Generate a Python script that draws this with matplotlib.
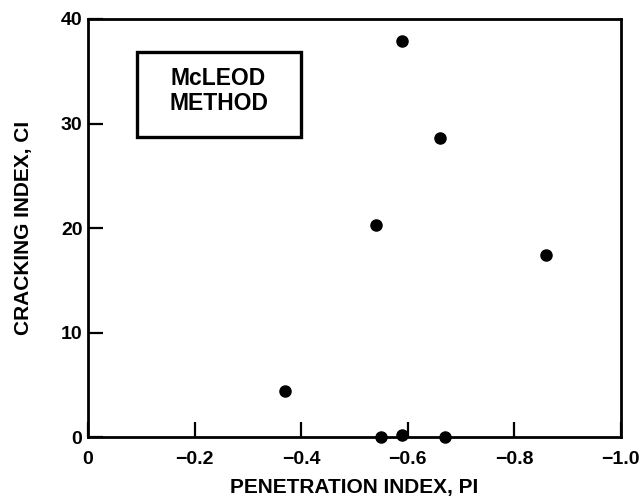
import matplotlib as mpl
mpl.use('Agg')
import matplotlib.pyplot as plt
from matplotlib.patches import Rectangle

# penetration index vs cracking index (McLeod method)
pen_index = [-0.37, -0.54, -0.55, -0.59, -0.59, -0.66, -0.67, -0.86]
crack_index = [4.4, 20.3, 0.0, 0.2, 37.9, 28.6, 0.0, 17.4]

x_ticks = [0, -0.2, -0.4, -0.6, -0.8, -1.0]
x_tick_labels = ['0', '\u22120.2', '\u22120.4', '\u22120.6', '\u22120.8', '\u22121.0']
y_ticks = [0, 10, 20, 30, 40]

plt.rcParams['font.family'] = ['Liberation Sans', 'DejaVu Sans']
plt.rcParams['font.weight'] = 'bold'

fig = plt.figure(figsize=(6.42, 4.99), dpi=100)
ax = fig.add_axes([0.137, 0.124, 0.83, 0.838])

ax.plot(pen_index, crack_index, 'o', color='black', markersize=8, clip_on=False, zorder=5)

ax.set_xlim(0, -1.0)
ax.set_ylim(0, 40)
ax.set_xticks(x_ticks)
ax.set_xticklabels(x_tick_labels)
ax.set_yticks(y_ticks)

for s in ax.spines.values():
    s.set_linewidth(2.0)
ax.tick_params(direction='in', length=11, width=1.6, labelsize=14,
               top=False, right=False)
ax.tick_params(axis='x', pad=10)
ax.tick_params(axis='y', pad=4)
for lab in ax.get_xticklabels() + ax.get_yticklabels():
    lab.set_fontweight('bold')

ax.set_xlabel('PENETRATION INDEX, PI', fontsize=15, fontweight='bold', labelpad=7)
ax.set_ylabel('CRACKING INDEX, CI', fontsize=15, fontweight='bold', labelpad=20)

# label box
ax.add_patch(Rectangle((-0.092, 28.7), -0.308, 8.1, fill=False, edgecolor='black',
                       linewidth=2.4, zorder=4))
ax.text(-0.245, 33.1, 'McLEOD\nMETHOD', ha='center', va='center', fontsize=16.5,
        fontweight='bold', linespacing=1.1)

fig.savefig('out.png', dpi=100)
